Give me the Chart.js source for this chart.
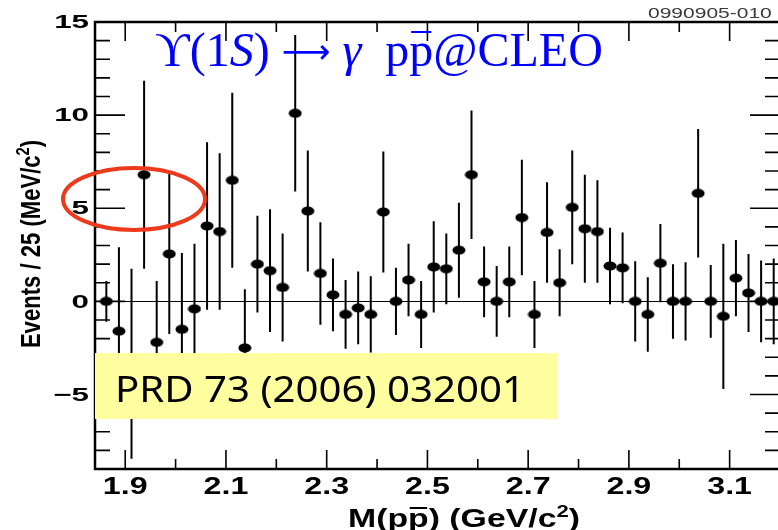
<!DOCTYPE html>
<html>
<head>
<meta charset="utf-8">
<script src="https://cdn.jsdelivr.net/npm/chart.js@4/dist/chart.umd.min.js"></script>
<style>
  html, body { margin: 0; padding: 0; background: #fff; overflow: hidden; }
  #wrap { width: 790px; height: 530px; }
</style>
</head>
<body>
<div id="wrap"><canvas id="ppbar" width="790" height="530"></canvas></div>
<script>
// M(p pbar) bin centres, 25 MeV/c^2 bins
var massBins = [1.8625, 1.8875, 1.9125, 1.9375, 1.9625, 1.9875, 2.0125, 2.0375, 2.0625, 2.0875,
                2.1125, 2.1375, 2.1625, 2.1875, 2.2125, 2.2375, 2.2625, 2.2875, 2.3125, 2.3375,
                2.3625, 2.3875, 2.4125, 2.4375, 2.4625, 2.4875, 2.5125, 2.5375, 2.5625, 2.5875,
                2.6125, 2.6375, 2.6625, 2.6875, 2.7125, 2.7375, 2.7625, 2.7875, 2.8125, 2.8375,
                2.8625, 2.8875, 2.9125, 2.9375, 2.9625, 2.9875, 3.0125, 3.0375, 3.0625, 3.0875,
                3.1125, 3.1375, 3.1625, 3.1875];
// background-subtracted yield per bin
var events = [0, -1.6, -3.35, 6.8, -2.2, 2.55, -1.5, -0.4, 4.05, 3.75,
              6.5, -2.5, 2.0, 1.65, 0.75, 10.1, 4.85, 1.5, 0.35, -0.7,
              -0.35, -0.7, 4.8, 0, 1.15, -0.7, 1.85, 1.75, 2.75, 6.8,
              1.05, 0, 1.05, 4.5, -0.7, 3.7, 1.0, 5.05, 3.9, 3.75,
              1.9, 1.8, 0, -0.7, 2.05, 0, 0, 5.8, 0, -0.8,
              1.25, 0.45, 0, 0];
var eventErrors = [1.1, 4.5, 5.1, 5.05, 3.3, 4.3, 4.1, 3.5, 4.5, 4.2,
                   4.7, 3.15, 2.6, 3.3, 2.9, 4.2, 3.25, 2.75, 1.95, 1.85,
                   1.95, 2.05, 3.25, 1.8, 1.95, 1.8, 2.45, 1.9, 2.55, 3.45,
                   1.9, 1.9, 1.9, 3.1, 1.8, 2.7, 1.8, 3.05, 2.9, 2.75,
                   2.05, 1.9, 2.15, 2.0, 2.1, 2.0, 2.1, 3.45, 1.95, 3.9,
                   2.05, 2.1, 2.2, 2.3];

var xTickLabels = [1.9, 2.1, 2.3, 2.5, 2.7, 2.9, 3.1];
var xTicks = [1.9, 2.0, 2.1, 2.2, 2.3, 2.4, 2.5, 2.6, 2.7, 2.8, 2.9, 3.0, 3.1];
var yTickLabels = [-5, 0, 5, 10, 15];
var yTicks = [-8, -7, -6, -5, -4, -3, -2, -1, 0, 1, 2, 3, 4, 5, 6, 7, 8, 9, 10, 11, 12, 13, 14];

var SANS = '"Liberation Sans", Arial, sans-serif';
var SERIF = '"Liberation Serif", "DejaVu Serif", "Times New Roman", serif';

// filled ellipse used as the marker
var dot = document.createElement('canvas');
dot.width = 14; dot.height = 10;
var dctx = dot.getContext('2d');
dctx.fillStyle = '#000';
dctx.beginPath();
dctx.ellipse(7, 5, 6.5, 4.5, 0, 0, Math.PI * 2);
dctx.fill();

function drawPieces(ctx, pieces, x, y) {
  // pieces: [text, font, dy, overline height]
  var cx = x;
  pieces.forEach(function (p) {
    ctx.font = p[1];
    var w = ctx.measureText(p[0]).width;
    ctx.fillText(p[0], cx, y + (p[2] || 0));
    if (p[3]) {
      ctx.fillRect(cx + w * 0.08, y - p[3], w * 0.84, 2);
    }
    cx += w;
  });
  return cx - x;
}
function piecesWidth(ctx, pieces) {
  var w = 0;
  pieces.forEach(function (p) { ctx.font = p[1]; w += ctx.measureText(p[0]).width; });
  return w;
}

var decor = {
  id: 'decor',
  beforeDatasetsDraw: function (chart) {
    var ctx = chart.ctx, xs = chart.scales.x, ys = chart.scales.y, a = chart.chartArea;
    ctx.save();
    ctx.strokeStyle = '#000';
    ctx.lineWidth = 1;
    var y0 = Math.round(ys.getPixelForValue(0)) + 0.5;
    ctx.beginPath(); ctx.moveTo(a.left, y0); ctx.lineTo(a.right, y0); ctx.stroke();

    // error bars
    ctx.lineWidth = 2;
    ctx.beginPath();
    for (var i = 0; i < massBins.length; i++) {
      var px = xs.getPixelForValue(massBins[i]);
      ctx.moveTo(px, ys.getPixelForValue(events[i] + eventErrors[i]));
      ctx.lineTo(px, ys.getPixelForValue(events[i] - eventErrors[i]));
    }
    ctx.stroke();
    ctx.restore();
  },
  afterDatasetsDraw: function (chart) {
    var ctx = chart.ctx, xs = chart.scales.x, ys = chart.scales.y, a = chart.chartArea;
    ctx.save();
    ctx.strokeStyle = '#000';
    ctx.fillStyle = '#000';

    // frame
    ctx.lineWidth = 2.5;
    ctx.strokeRect(a.left, a.top, a.right - a.left, a.bottom - a.top);

    // ticks on all four sides
    ctx.lineWidth = 1.6;
    ctx.beginPath();
    xTicks.forEach(function (v) {
      var px = xs.getPixelForValue(v);
      var len = xTickLabels.indexOf(v) >= 0 ? 19 : 10;
      ctx.moveTo(px, a.bottom); ctx.lineTo(px, a.bottom - len);
      ctx.moveTo(px, a.top); ctx.lineTo(px, a.top + len);
    });
    yTicks.forEach(function (v) {
      var py = ys.getPixelForValue(v);
      var len = yTickLabels.indexOf(v) >= 0 ? 30 : 15;
      ctx.moveTo(a.left, py); ctx.lineTo(a.left + len, py);
      ctx.moveTo(a.right, py); ctx.lineTo(a.right - len, py);
    });
    ctx.stroke();

    // tick labels (wide ROOT-style digits)
    ctx.font = 'bold 19px ' + SANS;
    ctx.textAlign = 'right';
    ctx.textBaseline = 'middle';
    yTickLabels.forEach(function (v) {
      var txt = v < 0 ? '\u2212' + Math.abs(v) : String(v);
      ctx.save();
      ctx.translate(a.left - 6, ys.getPixelForValue(v) + 1);
      ctx.scale(1.65, 1);
      ctx.fillText(txt, 0, 0);
      ctx.restore();
    });
    ctx.font = 'bold 23px ' + SANS;
    ctx.textAlign = 'center';
    ctx.textBaseline = 'alphabetic';
    xTickLabels.forEach(function (v) {
      ctx.save();
      ctx.translate(xs.getPixelForValue(v), a.bottom + 25);
      ctx.scale(1.4, 1);
      ctx.fillText(v.toFixed(1), 0, 0);
      ctx.restore();
    });

    // x axis title
    ctx.textAlign = 'left';
    var fx = 'bold 26px ' + SANS, fxs = 'bold 17px ' + SANS;
    var xt = [['M(p', fx], ['p', fx, 0, 20], [') (GeV/c', fx], ['2', fxs, -10], [')', fx]];
    ctx.save();
    ctx.translate(464, a.bottom + 58);
    ctx.scale(1.3, 1);
    drawPieces(ctx, xt, -piecesWidth(ctx, xt) / 2, 0);
    ctx.restore();

    // y axis title
    var fy = 'bold 24px ' + SANS, fys = 'bold 16px ' + SANS;
    var yt = [['Events / 25 (MeV/c', fy], ['2', fys, -10], [')', fy]];
    ctx.save();
    ctx.translate(40, 244);
    ctx.rotate(-Math.PI / 2);
    ctx.scale(0.92, 1.12);
    drawPieces(ctx, yt, -piecesWidth(ctx, yt) / 2, 0);
    ctx.restore();

    ctx.restore();
  },
  afterDraw: function (chart) {
    var ctx = chart.ctx, a = chart.chartArea;
    ctx.save();

    // plot id
    ctx.fillStyle = '#3a3a3a';
    ctx.font = '14px ' + SANS;
    ctx.textBaseline = 'alphabetic';
    ctx.textAlign = 'left';
    ctx.save();
    ctx.translate(648, 18);
    ctx.scale(1.5, 1);
    ctx.fillText('0990905-010', 0, 0);
    ctx.restore();

    // reaction label
    ctx.fillStyle = '#0000ff';
    var fr = '48px ' + SERIF, fi = 'italic 48px ' + SERIF;
    var fa = '34px "DejaVu Sans", sans-serif';
    drawPieces(ctx, [
      ['\u03D2(1', fr], ['S', fi], [')', fr], [' ', fr], ['\u27F6', fa, -3], [' ', fr], ['\u03B3', fi],
      ['  p', fr], ['p', fr, 0, 35], ['@CLEO', fr]
    ], 155, 66);

    // reference box
    ctx.fillStyle = '#ffffa0';
    ctx.fillRect(a.left, 353, 463, 66);
    ctx.fillStyle = '#000';
    ctx.font = '37px "Noto Sans", sans-serif';
    var ref = 'PRD 73 (2006) 032001';
    var rw = ctx.measureText(ref).width;
    ctx.save();
    ctx.translate(115, 402);
    ctx.scale(410 / rw, 1);
    ctx.fillText(ref, 0, 0);
    ctx.restore();

    // highlight ring
    ctx.strokeStyle = '#ee3a1c';
    ctx.lineWidth = 4;
    ctx.beginPath();
    ctx.ellipse(134, 199, 71, 31, 0, 0, Math.PI * 2);
    ctx.stroke();

    ctx.restore();
  }
};

new Chart(document.getElementById('ppbar'), {
  type: 'scatter',
  data: {
    datasets: [{
      label: 'Events',
      data: massBins.map(function (m, i) { return { x: m, y: events[i] }; }),
      pointStyle: dot,
      pointRadius: 5,
      pointHoverRadius: 5,
      backgroundColor: '#000',
      borderColor: '#000'
    }]
  },
  options: {
    responsive: false,
    animation: false,
    devicePixelRatio: 1,
    layout: { padding: { top: 22, right: 10, left: 0, bottom: 0 } },
    plugins: { legend: { display: false }, tooltip: { enabled: false }, title: { display: false } },
    scales: {
      x: {
        type: 'linear', min: 1.84, max: 3.2,
        grid: { display: false, drawTicks: false },
        border: { display: false },
        ticks: { display: false },
        afterFit: function (s) { s.height = 61; }
      },
      y: {
        type: 'linear', min: -9, max: 15,
        grid: { display: false, drawTicks: false },
        border: { display: false },
        ticks: { display: false },
        afterFit: function (s) { s.width = 95; }
      }
    }
  },
  plugins: [decor]
});
</script>
</body>
</html>
